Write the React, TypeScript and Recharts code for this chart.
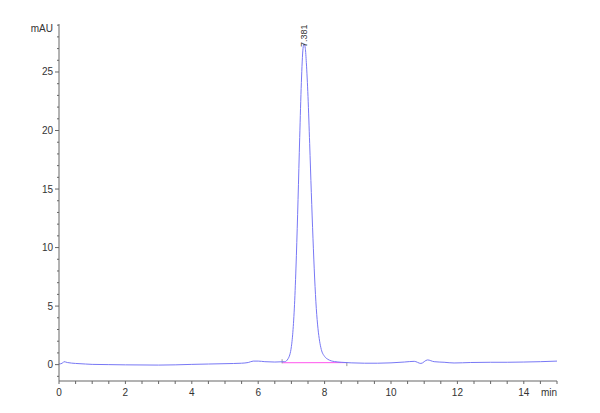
import { LineChart, Line, XAxis, YAxis, ReferenceLine } from 'recharts';

// retention time (min)
const TIME = [
  0, 0.1, 0.15, 0.25, 0.5, 0.8, 1.0, 1.5, 2.0, 2.5, 3.0, 3.5, 4.0, 4.5, 5.0, 5.5, 5.7, 5.85, 6.0, 6.2,
  6.5, 6.8, 6.9, 7.0, 7.05, 7.1, 7.15, 7.2, 7.25, 7.3, 7.35, 7.38, 7.42, 7.45, 7.5, 7.55, 7.6, 7.65, 7.7,
  7.75, 7.8, 7.85, 7.9, 8.0, 8.1, 8.2, 8.3, 8.5, 8.8, 9.2, 9.6, 10.0, 10.4, 10.7, 10.9, 11.1, 11.3, 11.6,
  11.9, 12.4, 13.0, 13.5, 14.0, 14.5, 15.0,
];
// absorbance (mAU)
const SIGNAL = [
  0.05, 0.12, 0.25, 0.18, 0.1, 0.05, 0.02, 0.0, -0.02, -0.03, -0.04, -0.02, 0.02, 0.05, 0.08, 0.12, 0.18, 0.3, 0.3, 0.25,
  0.22, 0.25, 0.5, 1.55, 3.0, 5.5, 9.3, 14.1, 19.4, 24.1, 27.0, 27.4, 27.0, 25.8, 22.9, 18.9, 14.7, 10.8, 7.4,
  4.8, 3.1, 2.0, 1.3, 0.7, 0.45, 0.32, 0.26, 0.2, 0.15, 0.12, 0.12, 0.15, 0.22, 0.28, 0.1, 0.4, 0.25, 0.2,
  0.14, 0.18, 0.2, 0.2, 0.22, 0.25, 0.3,
];

const PEAK_LABEL = '7.381';
const BASE_START = { x: 6.72, y: 0.16 };
const BASE_END = { x: 8.67, y: 0.17 };

const X_TICKS = Array.from({ length: 31 }, (_, i) => i * 0.5);
const X_LABELS = [0, 2, 4, 6, 8, 10, 12, 14];
const Y_TICKS = Array.from({ length: 31 }, (_, i) => i - 1);
const Y_LABELS = [0, 5, 10, 15, 20, 25];

const data = TIME.map((t, i) => ({ t, v: SIGNAL[i] }));
const peakIdx = SIGNAL.indexOf(Math.max(...SIGNAL));

const FONT = '"Liberation Sans", Arial, sans-serif';

const XTick = (props: any) => {
  const { x, y, payload } = props;
  const v = payload.value;
  return (
    <g>
      <line x1={x} y1={y} x2={x} y2={y + 3} stroke="#666" />
      {X_LABELS.includes(v) && (
        <text x={x} y={y + 15} textAnchor="middle" fontSize={10} fill="#333" fontFamily={FONT}>{v}</text>
      )}
      {v === 15 && (
        <text x={x} y={y + 15} textAnchor="end" fontSize={10} fill="#333" fontFamily={FONT}>min</text>
      )}
    </g>
  );
};

const YTick = (props: any) => {
  const { x, y, payload } = props;
  const v = payload.value;
  const major = Y_LABELS.includes(v);
  return (
    <g>
      <line x1={x - (major ? 4 : 2)} y1={y} x2={x} y2={y} stroke="#666" />
      {major && (
        <text x={x - 6} y={y + 3.5} textAnchor="end" fontSize={10} fill="#333" fontFamily={FONT}>{v}</text>
      )}
      {v === 29 && (
        <text x={x - 6} y={y + 7} textAnchor="end" fontSize={10} fill="#333" fontFamily={FONT}>mAU</text>
      )}
    </g>
  );
};

const PeakLabel = (props: any) => {
  const { x, y, index } = props;
  if (index !== peakIdx) return <g />;
  const lx = x + 3;
  const ly = y + 3;
  return (
    <text
      x={lx}
      y={ly}
      transform={`rotate(-90, ${lx}, ${ly})`}
      fontSize={9}
      fill="#333"
      fontFamily={FONT}
    >
      {PEAK_LABEL}
    </text>
  );
};

export default function App() {
  return (
    <div style={{ position: 'absolute', left: 0, top: 0, width: 600, height: 413, background: '#fff' }}>
      <LineChart width={600} height={413} data={data} margin={{ top: 24, right: 43, left: 0, bottom: 0 }}>
        <XAxis
          dataKey="t"
          type="number"
          domain={[0, 15]}
          ticks={X_TICKS}
          interval={0}
          tickSize={0}
          tickMargin={0}
          tickLine={false}
          tick={<XTick />}
          height={32}
          stroke="#666"
          allowDataOverflow
        />
        <YAxis
          type="number"
          domain={[-1.4, 29.1]}
          ticks={Y_TICKS}
          interval={0}
          tickSize={0}
          tickMargin={0}
          tickLine={false}
          tick={<YTick />}
          width={59}
          stroke="#666"
          allowDataOverflow
        />
        <ReferenceLine segment={[BASE_START, BASE_END]} stroke="#ff55ee" strokeWidth={1} ifOverflow="visible" />
        <ReferenceLine
          segment={[{ x: BASE_START.x, y: BASE_START.y - 0.05 }, { x: BASE_START.x, y: BASE_START.y + 0.3 }]}
          stroke="#999"
          ifOverflow="visible"
        />
        <ReferenceLine
          segment={[{ x: BASE_END.x, y: BASE_END.y - 0.3 }, { x: BASE_END.x, y: BASE_END.y + 0.05 }]}
          stroke="#999"
          ifOverflow="visible"
        />
        <Line
          type="monotone"
          dataKey="v"
          stroke="#7878f5"
          strokeWidth={1}
          dot={false}
          isAnimationActive={false}
          label={<PeakLabel />}
        />
      </LineChart>
    </div>
  );
}
